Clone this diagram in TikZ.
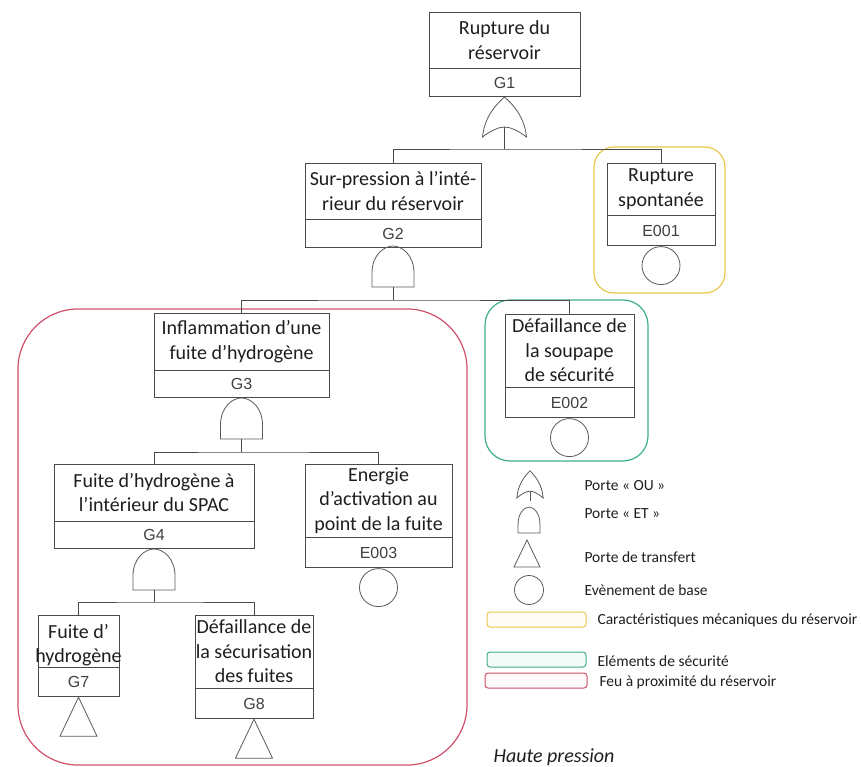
\documentclass[tikz,border=0pt]{standalone}
\usepackage{fontspec}
\setmainfont{Carlito}
\newfontfamily\idfont{Liberation Sans}
\definecolor{linec}{HTML}{4A4A4A}
\definecolor{gatec}{HTML}{5A5A5A}
\definecolor{yelc}{HTML}{E6C84A}
\definecolor{grnc}{HTML}{3DAF8A}
\definecolor{redc}{HTML}{D0506A}
\definecolor{txtc}{HTML}{1E1E1E}
\tikzset{
  upbox/.style={draw=linec, line width=0.8pt, inner sep=0pt, align=center, text=txtc,
    font=\fontsize{20}{24.5}\selectfont},
  idbox/.style={draw=linec, line width=0.8pt, inner sep=0pt, anchor=north, text=txtc!85!white,
    font=\idfont\fontsize{16}{18}\selectfont},
  conn/.style={draw=linec, line width=0.8pt},
  gate/.style={draw=gatec, line width=0.8pt},
  basic/.style={circle, draw=gatec, line width=0.8pt, inner sep=0pt, minimum size=38pt, anchor=north},
  zone/.style={line width=1.2pt},
  legtext/.style={anchor=west, text=txtc, font=\fontsize{15.5}{18}\selectfont},
  andgate/.pic={
    \draw[gate] (-21,0) -- (-21,-14) .. controls (-21,-32) and (-9,-41) .. (0,-41)
      .. controls (9,-41) and (21,-32) .. (21,-14) -- (21,0) -- cycle;
    \coordinate (-out) at (0,0);
  },
  orgate/.pic={
    \draw[gate] (-22,0) .. controls (-20,-20) and (-9,-32) .. (0,-40)
      .. controls (9,-32) and (20,-20) .. (22,0)
      .. controls (13,-7) and (5,-10) .. (0,-10)
      .. controls (-5,-10) and (-13,-7) .. (-22,0) -- cycle;
    \coordinate (-in) at (0,-10);
  },
  transfer/.pic={
    \draw[gate] (0,0) -- (-18.5,39) -- (18.5,39) -- cycle;
  }
}
\begin{document}
\begin{tikzpicture}[x=1pt,y=-1pt]
\useasboundingbox (0,0) rectangle (861,767);

% zones
\draw[zone, draw=yelc, rounded corners=20pt] (594,147) rectangle (725,293);
\draw[zone, draw=grnc, rounded corners=25pt] (485,300) rectangle (648,461);
\draw[zone, draw=redc, rounded corners=60pt] (18,309) rectangle (467,765);

% G1
\node[upbox, minimum width=151, minimum height=56] (g1t) at (504.5,40) {Rupture du\\réservoir};
\node[idbox, minimum width=151, minimum height=28] (g1) at (g1t.south) {G1};
\pic (g1g) at (504.5,137) {orgate};
\coordinate (g1s) at (504.5,149);

% G2
\node[upbox, minimum width=176, minimum height=56] (g2t) at (393,191) {Sur-pression à l’inté-\\rieur du réservoir};
\node[idbox, minimum width=176, minimum height=28] (g2) at (g2t.south) {G2};
\pic (g2g) at (393,287) {andgate};
\coordinate (g2s) at (393,300);

% E001
\node[upbox, minimum width=108, minimum height=52] (e1t) at (661,189) {Rupture\\spontanée};
\node[idbox, minimum width=108, minimum height=30] (e1) at (e1t.south) {E001};
\node[basic] (e1c) at (e1.south) {};

% G3
\node[upbox, minimum width=175, minimum height=57] (g3t) at (241.5,341.5) {Inflammation d’une\\fuite d’hydrogène};
\node[idbox, minimum width=175, minimum height=27] (g3) at (g3t.south) {G3};
\pic (g3g) at (241.5,439) {andgate};
\coordinate (g3s) at (241.5,452);

% E002
\node[upbox, minimum width=129, minimum height=73] (e2t) at (569.5,350.5) {Défaillance de\\la soupape\\de sécurité};
\node[idbox, minimum width=129, minimum height=30] (e2) at (e2t.south) {E002};
\node[basic] (e2c) at (e2.south) {};

% G4
\node[upbox, minimum width=200, minimum height=57] (g4t) at (154,492.5) {Fuite d’hydrogène à\\l’intérieur du SPAC};
\node[idbox, minimum width=200, minimum height=27] (g4) at (g4t.south) {G4};
\pic (g4g) at (154,590) {andgate};
\coordinate (g4s) at (154,602);

% E003
\node[upbox, minimum width=147, minimum height=73] (e3t) at (378.5,500.5) {Energie\\d’activation au\\point de la fuite};
\node[idbox, minimum width=147, minimum height=30] (e3) at (e3t.south) {E003};
\node[basic] (e3c) at (e3.south) {};

% G7
\node[upbox, minimum width=81, minimum height=52] (g7t) at (78.5,641) {};
\node[anchor=center, align=center, inner sep=0pt, text=txtc, font=\fontsize{20}{24.5}\selectfont] (g7l) at (78.5,645) {Fuite d’\\hydrogène};
\node[idbox, minimum width=81, minimum height=29] (g7) at (g7t.south) {G7};
\pic at (g7.south) {transfer};

% G8
\node[upbox, minimum width=118, minimum height=73] (g8t) at (254,651.5) {Défaillance de\\la sécurisation\\des fuites};
\node[idbox, minimum width=118, minimum height=30] (g8) at (g8t.south) {G8};
\pic at (g8.south) {transfer};

% connectors
\draw[conn] (g1g-in) -- (g1s);
\draw[conn] (g2t.north) |- (g1s) -| (e1t.north);
\draw[conn] (g2g-out) -- (g2s);
\draw[conn] (g3t.north) |- (g2s) -| (e2t.north);
\draw[conn] (g3g-out) -- (g3s);
\draw[conn] (g4t.north) |- (g3s) -| (e3t.north);
\draw[conn] (g4g-out) -- (g4s);
\draw[conn] (g7t.north) |- (g4s) -| (g8t.north);

% legend
\pic (lor) [xscale=0.6, yscale=0.68] at (530,498) {orgate};
\coordinate (lors) at (530,501);
\draw[gate] (lor-in) -- (lors);
\pic [xscale=0.52, yscale=0.63] at (529,533) {andgate};
\pic [xscale=0.7, yscale=0.69] at (527,540) {transfer};
\node[basic, minimum size=29pt, anchor=center] (lbase) at (529,590) {};
\node[legtext] (t1) at (581,486) {Porte « OU »};
\node[legtext] (t2) at (581,514) {Porte « ET »};
\node[legtext] (t3) at (581,557) {Porte de transfert};
\node[legtext] (t4) at (581,590) {Evènement de base};
\draw[line width=1pt, draw=yelc, fill=yelc!6, rounded corners=3pt] (487,612) rectangle (586,627);
\draw[line width=1pt, draw=grnc, fill=grnc!6, rounded corners=3pt] (487,652) rectangle (586,667);
\draw[line width=1pt, draw=redc, fill=redc!4, rounded corners=3pt] (485,673) rectangle (587,688);
\node[legtext] (t5) at (594,620) {Caractéristiques mécaniques du réservoir};
\node[legtext] (t6) at (594,661) {Eléments de sécurité};
\node[legtext] (t7) at (596,682) {Feu à proximité du réservoir};
\node[anchor=west, text=txtc, font=\itshape\fontsize{20}{23}\selectfont] (hp) at (490,757) {Haute pression};
\end{tikzpicture}
\end{document}
